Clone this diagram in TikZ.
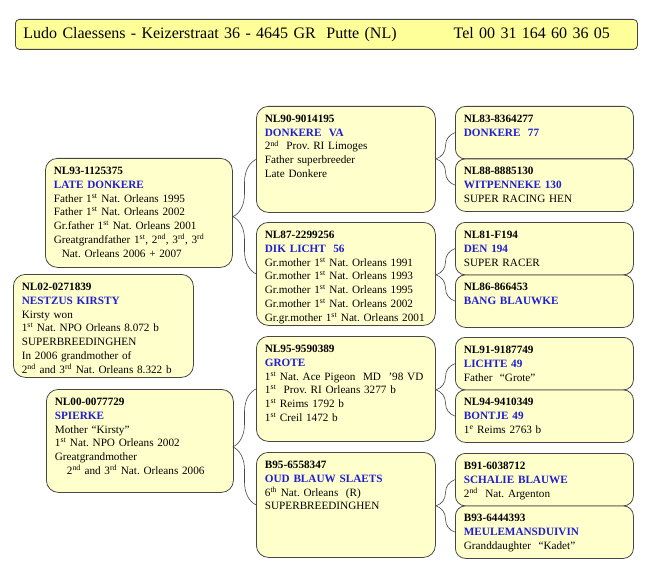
\documentclass[tikz,border=0pt]{standalone}
\usepackage{fontspec}
\setmainfont{Liberation Serif}
\usetikzlibrary{decorations.pathreplacing}
\definecolor{geel}{RGB}{255,255,204}
\definecolor{kopgeel}{RGB}{255,255,153}
\definecolor{duifblauw}{RGB}{30,30,210}
\definecolor{rand}{RGB}{70,70,70}
\newcommand{\ring}[1]{\textbf{#1}}
\newcommand{\naam}[1]{\textcolor{duifblauw}{\textbf{#1}}}
\newcommand{\supr}[1]{\textsuperscript{#1}}
\frenchspacing

\begin{document}
\begin{tikzpicture}[x=1pt, y=-1pt,
  kaartje/.style={draw=rand, fill=geel, line width=0.8pt, rounded corners=12pt,
    anchor=north west, align=left, inner xsep=8.5pt, inner ysep=5pt,
    text height=11pt, font=\fontsize{11.2}{13.8}\selectfont},
  haak/.style={decorate, decoration={brace, amplitude=#1}, draw=rand, line width=0.6pt}]
\useasboundingbox (0,0) rectangle (650,564);

% Kop
\node[draw=rand, fill=kopgeel, rounded corners=4pt, anchor=north west, line width=0.8pt,
  text width=606pt, minimum height=30pt, inner xsep=8pt, align=left,
  font=\fontsize{16}{18}\selectfont] (kop) at (15,19)
  {Ludo Claessens - Keizerstraat 36 - 4645 GR\ \ Putte (NL)\hspace{57pt}Tel 00 31 164 60 36 05};

% Kolom 1
\node[kaartje, text width=170pt, text depth=88pt] (latedonkere) at (45,158) {\ring{NL93-1125375}\\
  \naam{LATE DONKERE}\\
  Father 1\supr{st} Nat. Orleans 1995\\
  Father 1\supr{st} Nat. Orleans 2002\\
  Gr.father 1\supr{st} Nat. Orleans 2001\\
  Greatgrandfather 1\supr{st}, 2\supr{nd}, 3\supr{rd}, 3\supr{rd}\\
  \hspace*{8pt}Nat. Orleans 2006 + 2007};
\node[kaartje, text width=163pt, text depth=82pt] (nestzus) at (13,274) {\ring{NL02-0271839}\\
  \naam{NESTZUS KIRSTY}\\
  Kirsty won\\
  1\supr{st} Nat. NPO Orleans 8.072 b\\
  SUPERBREEDINGHEN\\
  In 2006 grandmother of\\
  2\supr{nd} and 3\supr{rd} Nat. Orleans 8.322 b};
\node[kaartje, text width=170pt, text depth=82pt] (spierke) at (46,389) {\ring{NL00-0077729}\\
  \naam{SPIERKE}\\
  Mother “Kirsty”\\
  1\supr{st} Nat. NPO Orleans 2002\\
  Greatgrandmother\\
  \hspace*{12pt}2\supr{nd} and 3\supr{rd} Nat. Orleans 2006};

% Kolom 2
\node[kaartje, text width=162pt, text depth=85pt] (donkereva) at (256,106) {\ring{NL90-9014195}\\
  \naam{DONKERE\ \ VA}\\
  2\supr{nd}\ \ Prov. RI Limoges\\
  Father superbreeder\\
  Late Donkere};
\node[kaartje, text width=162pt, text depth=82pt] (diklicht) at (256,222) {\ring{NL87-2299256}\\
  \naam{DIK LICHT\ \ 56}\\
  Gr.mother 1\supr{st} Nat. Orleans 1991\\
  Gr.mother 1\supr{st} Nat. Orleans 1993\\
  Gr.mother 1\supr{st} Nat. Orleans 1995\\
  Gr.mother 1\supr{st} Nat. Orleans 2002\\
  Gr.gr.mother 1\supr{st} Nat. Orleans 2001};
\node[kaartje, text width=162pt, text depth=84pt] (grote) at (256,336) {\ring{NL95-9590389}\\
  \naam{GROTE}\\
  1\supr{st} Nat. Ace Pigeon\ \ MD\ \ ’98 VD\\
  1\supr{st}\ \ Prov. RI Orleans 3277 b\\
  1\supr{st} Reims 1792 b\\
  1\supr{st} Creil 1472 b};
\node[kaartje, text width=162pt, text depth=84pt] (oudblauw) at (256,452) {\ring{B95-6558347}\\
  \naam{OUD BLAUW SLAETS}\\
  6\supr{th} Nat. Orleans\ \ (R)\\
  SUPERBREEDINGHEN};

% Kolom 3
\node[kaartje, rounded corners=10pt, text width=161pt, text depth=31.5pt] (donkere77) at (455,106) {\ring{NL83-8364277}\\
  \naam{DONKERE\ \ 77}};
\node[kaartje, rounded corners=10pt, text width=161pt, text depth=31.5pt] (witpenneke) at (455,158.5) {\ring{NL88-8885130}\\
  \naam{WITPENNEKE 130}\\
  SUPER RACING HEN};
\node[kaartje, rounded corners=10pt, text width=161pt, text depth=31.5pt] (den194) at (455,222) {\ring{NL81-F194}\\
  \naam{DEN 194}\\
  SUPER RACER};
\node[kaartje, rounded corners=10pt, text width=161pt, text depth=31.5pt] (bangblauwke) at (455,274.5) {\ring{NL86-866453}\\
  \naam{BANG BLAUWKE}};
\node[kaartje, rounded corners=10pt, text width=161pt, text depth=31.5pt] (lichte49) at (455,337) {\ring{NL91-9187749}\\
  \naam{LICHTE 49}\\
  Father\ \ “Grote”};
\node[kaartje, rounded corners=10pt, text width=161pt, text depth=31.5pt] (bontje49) at (455,389.5) {\ring{NL94-9410349}\\
  \naam{BONTJE 49}\\
  1\supr{e} Reims 2763 b};
\node[kaartje, rounded corners=10pt, text width=161pt, text depth=31.5pt] (schalie) at (455,453) {\ring{B91-6038712}\\
  \naam{SCHALIE BLAUWE}\\
  2\supr{nd}\ \ Nat. Argenton};
\node[kaartje, rounded corners=10pt, text width=161pt, text depth=31.5pt] (meulemans) at (455,505.5) {\ring{B93-6444393}\\
  \naam{MEULEMANSDUIVIN}\\
  Granddaughter\ \ “Kadet”};

% Haken
\foreach \boven/\onder in {donkereva/diklicht, grote/oudblauw}
  \draw[haak=23pt] (\onder.west) -- (\boven.west);
\foreach \boven/\onder in {donkere77/witpenneke, den194/bangblauwke, lichte49/bontje49, schalie/meulemans}
  \draw[haak=19pt] (\onder.west) -- (\boven.west);
\end{tikzpicture}
\end{document}
